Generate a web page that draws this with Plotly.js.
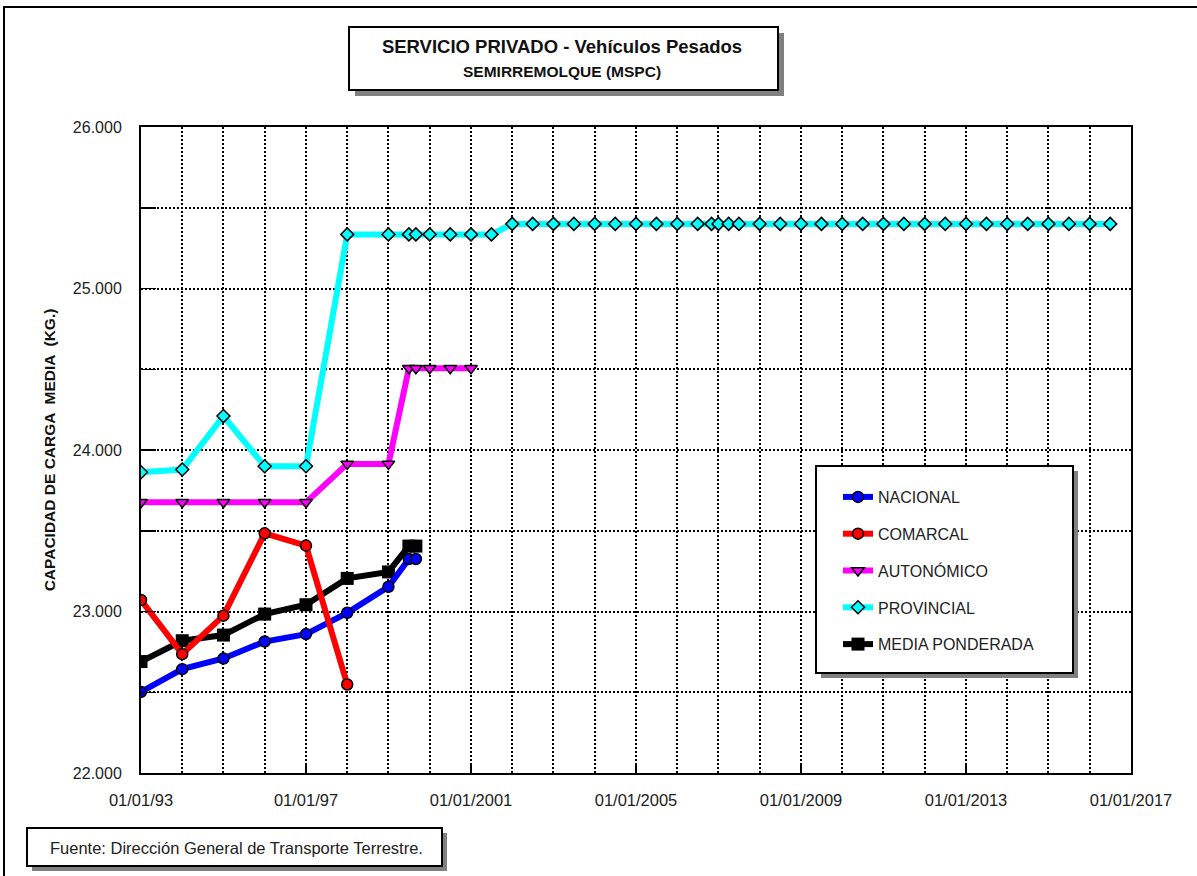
<!DOCTYPE html>
<html>
<head>
<meta charset="utf-8">
<script src="https://cdn.plot.ly/plotly-3.0.1.min.js"></script>
<style>
  html, body { margin: 0; padding: 0; background: #fff; }
  #chart { width: 1197px; height: 876px; }
</style>
</head>
<body>
<div id="chart"></div>
<script>
// ---------- DATA ----------
const seriesNames = ['NACIONAL', 'COMARCAL', 'AUTONÓMICO', 'PROVINCIAL', 'MEDIA PONDERADA'];

const nacionalFechas = ['1993-01-01','1994-01-01','1995-01-01','1996-01-01','1997-01-01','1998-01-01','1999-01-01','1999-07-01','1999-09-01'];
const nacionalValores = [22502, 22643, 22709, 22814, 22860, 22992, 23153, 23325, 23325];

const comarcalFechas = ['1993-01-01','1994-01-01','1995-01-01','1996-01-01','1997-01-01','1998-01-01'];
const comarcalValores = [23071, 22736, 22974, 23484, 23408, 22548];

const autonomicoFechas = ['1993-01-01','1994-01-01','1995-01-01','1996-01-01','1997-01-01','1998-01-01','1999-01-01','1999-07-01','1999-09-01','2000-01-01','2000-07-01','2001-01-01'];
const autonomicoValores = [23676, 23676, 23676, 23676, 23676, 23914, 23914, 24506, 24506, 24506, 24506, 24506];

const provincialFechas = ['1993-01-01','1994-01-01','1995-01-01','1996-01-01','1997-01-01','1998-01-01','1999-01-01','1999-07-01','1999-09-01','2000-01-01','2000-07-01','2001-01-01','2001-07-01',
  '2002-01-01','2002-07-01','2003-01-01','2003-07-01','2004-01-01','2004-07-01','2005-01-01','2005-07-01','2006-01-01','2006-07-01',
  '2006-11-01','2007-01-01','2007-04-01','2007-07-01',
  '2008-01-01','2008-07-01','2009-01-01','2009-07-01','2010-01-01','2010-07-01','2011-01-01','2011-07-01','2012-01-01','2012-07-01',
  '2013-01-01','2013-07-01','2014-01-01','2014-07-01','2015-01-01','2015-07-01','2016-01-01','2016-07-01'];
const provincialValores = [23862, 23879, 24210, 23899, 23899, 25335, 25335, 25335, 25335, 25335, 25335, 25335, 25335,
  25400, 25400, 25400, 25400, 25400, 25400, 25400, 25400, 25400, 25400,
  25400, 25400, 25400, 25400,
  25400, 25400, 25400, 25400, 25400, 25400, 25400, 25400, 25400, 25400,
  25400, 25400, 25400, 25400, 25400, 25400, 25400, 25400];

const mediaFechas = ['1993-01-01','1994-01-01','1995-01-01','1996-01-01','1997-01-01','1998-01-01','1999-01-01','1999-07-01','1999-09-01'];
const mediaValores = [22690, 22819, 22854, 22984, 23042, 23205, 23245, 23405, 23405];

const xTickVals = ['1993-01-01','1997-01-01','2001-01-01','2005-01-01','2009-01-01','2013-01-01','2017-01-01'];
const xTickText = ['01/01/93','01/01/97','01/01/2001','01/01/2005','01/01/2009','01/01/2013','01/01/2017'];
const yTickVals = [22000, 23000, 24000, 25000, 26000];
const yTickText = ['22.000','23.000','24.000','25.000','26.000'];

const tituloPrincipal = 'SERVICIO PRIVADO - Vehículos Pesados';
const subtitulo = 'SEMIRREMOLQUE (MSPC)';
const tituloEjeY = 'CAPACIDAD DE CARGA  MEDIA  (KG.)';
const fuente = 'Fuente: Dirección General de Transporte Terrestre.';

// ---------- LAYOUT HELPERS ----------
const FW = 1197, FH = 876;
const L = 141, R = 1131, T = 127, B = 773;
const W = R - L, H = B - T;
const px = p => (p - L) / W;
const py = p => (B - p) / H;
const FONT = '"Liberation Sans", Arial, Helvetica, sans-serif';

function boxWithShadow(x0, y0, x1, y1, off) {
  return [
    { type: 'rect', xref: 'paper', yref: 'paper', layer: 'above',
      x0: px(x0 + off), x1: px(x1 + off), y0: py(y0 + off), y1: py(y1 + off),
      fillcolor: '#808080', line: { width: 0 } },
    { type: 'rect', xref: 'paper', yref: 'paper', layer: 'above',
      x0: px(x0), x1: px(x1), y0: py(y0), y1: py(y1),
      fillcolor: '#ffffff', line: { color: '#000', width: 2 } }
  ];
}

function mk(name, x, y, color, symbol, size, rank) {
  return {
    type: 'scatter', mode: 'lines+markers', name: name, x: x, y: y,
    legendgroup: name, legendrank: rank,
    line: { color: color, width: 6 },
    marker: { color: color, symbol: symbol, size: size,
              line: { color: '#000', width: symbol === 'square' ? 0 : 1.5 } }
  };
}

const traces = [
  mk(seriesNames[4], mediaFechas, mediaValores, '#000000', 'square', 13, 5),
  mk(seriesNames[0], nacionalFechas, nacionalValores, '#0000FF', 'circle', 11, 1),
  mk(seriesNames[1], comarcalFechas, comarcalValores, '#FF0000', 'circle', 11, 2),
  mk(seriesNames[2], autonomicoFechas, autonomicoValores, '#FF00FF', 'triangle-down', 11, 3),
  mk(seriesNames[3], provincialFechas, provincialValores, '#00FFFF', 'diamond', 10, 4)
];

const gridStyle = { showgrid: true, gridcolor: '#000', gridwidth: 2, griddash: '2px,2px' };

const shapes = [].concat(
  [{ type: 'rect', xref: 'paper', yref: 'paper', layer: 'above',
     x0: px(4), x1: px(1300), y0: py(7), y1: py(1000),
     fillcolor: 'rgba(0,0,0,0)', line: { color: '#000', width: 2 } }],
  boxWithShadow(349, 27, 778, 90, 6),
  boxWithShadow(816, 466, 1073, 673, 5),
  boxWithShadow(27, 828, 442, 866, 5)
);

const layout = {
  width: FW, height: FH,
  paper_bgcolor: '#fff', plot_bgcolor: '#fff',
  margin: { l: L, r: FW - R, t: T, b: FH - B, pad: 0 },
  font: { family: FONT, color: '#222' },
  title: { text: '<b>' + tituloPrincipal + '</b>', font: { family: FONT, size: 18.5, color: '#111' },
           xref: 'paper', x: px(562), xanchor: 'center', yref: 'container', y: 1 - 47 / FH, yanchor: 'middle' },
  showlegend: true,
  legend: { x: px(838), y: py(480), xanchor: 'left', yanchor: 'top', bgcolor: 'rgba(0,0,0,0)',
            borderwidth: 0, font: { family: FONT, size: 16, color: '#222' }, tracegroupgap: 13, traceorder: 'grouped' },
  xaxis: Object.assign({
    type: 'date', range: ['1993-01-01', '2017-01-01'],
    tickmode: 'array', tickvals: xTickVals, ticktext: xTickText,
    ticks: 'inside', ticklen: 10, tickwidth: 1.5, tickcolor: '#000',
    tickfont: { family: FONT, size: 16.5, color: '#222' }, ticklabelstandoff: 11,
    showline: true, mirror: true, linecolor: '#000', linewidth: 2, zeroline: false,
    minor: Object.assign({ dtick: 'M12', tick0: '1993-01-01', ticks: '' }, gridStyle)
  }, gridStyle),
  yaxis: Object.assign({
    range: [22000, 26000],
    tickmode: 'array', tickvals: yTickVals, ticktext: yTickText,
    ticks: 'inside', ticklen: 15, tickwidth: 1.5, tickcolor: '#000',
    tickfont: { family: FONT, size: 16, color: '#222' }, ticklabelstandoff: 14,
    showline: true, mirror: true, linecolor: '#000', linewidth: 2, zeroline: false,
    title: { text: '<b>' + tituloEjeY + '</b>', font: { family: FONT, size: 15.5, color: '#111' }, standoff: 13 },
    minor: Object.assign({ dtick: 500, tick0: 22000, ticks: 'inside', ticklen: 15, tickwidth: 1.5, tickcolor: '#000' }, gridStyle)
  }, gridStyle),
  shapes: shapes,
  annotations: [
    { xref: 'paper', yref: 'paper', x: px(562), y: py(72), xanchor: 'center', yanchor: 'middle', showarrow: false,
      text: '<b>' + subtitulo + '</b>', font: { family: FONT, size: 15.5, color: '#111' } },
    { xref: 'paper', yref: 'paper', x: px(236), y: py(848), xanchor: 'center', yanchor: 'middle', showarrow: false,
      text: fuente, font: { family: FONT, size: 16.5, color: '#222' } }
  ]
};

Plotly.newPlot('chart', traces, layout, { displayModeBar: false, staticPlot: true });
</script>
</body>
</html>
